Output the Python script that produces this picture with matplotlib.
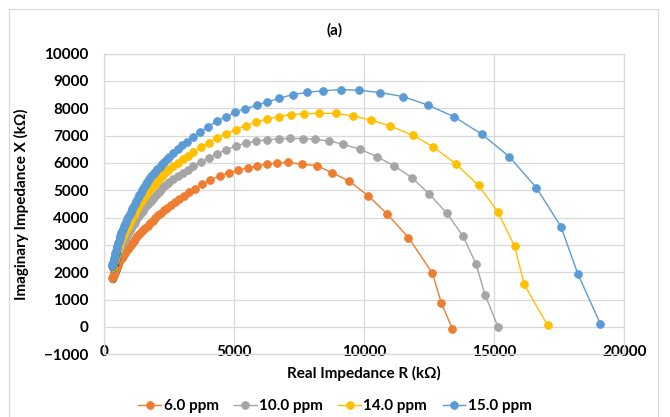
import matplotlib
matplotlib.use("Agg")
import matplotlib.pyplot as plt
import matplotlib.patheffects as pe
from matplotlib.patches import Rectangle

plt.rcParams['font.family'] = ['Lato', 'DejaVu Sans']

# ---------------- data (R in kOhm, X in kOhm) ----------------
r_6 = [308, 327, 346, 371, 396, 425, 454, 486, 519, 555, 592, 632, 673, 716, 761,
       809, 858, 910, 962, 1019, 1077, 1140, 1204, 1275, 1346, 1423, 1500, 1586,
       1673, 1768, 1865, 1970, 2077, 2192, 2308, 2432, 2558, 2720, 2890, 3070, 3270,
       3500, 3757, 4077, 4461, 4819,
       5165, 5527, 5873, 6257, 6642, 7088, 7604, 8180, 8757, 9423, 10165, 10896,
       11704, 12627, 12961, 13396]
x_6 = [1780, 1828, 1872, 1932, 1989, 2054, 2117, 2184, 2248, 2318, 2384, 2455, 2523,
       2589, 2651, 2717, 2779, 2852, 2921, 2998, 3071, 3154, 3232, 3316, 3396, 3475,
       3550, 3627, 3700, 3789, 3875, 3978, 4076, 4173, 4266, 4365, 4460, 4572, 4683,
       4790, 4917, 5057, 5210, 5375, 5528, 5638,
       5733, 5820, 5886, 5956, 6000, 6022, 5948, 5901, 5645, 5338, 4789, 4120, 3268,
       1963, 892, -84]

r_10 = [327, 346, 365, 386, 408, 431, 454, 479, 504, 531, 558, 586, 615, 648, 681,
        715, 750, 788, 827, 867, 908, 952, 996, 1044, 1092, 1142, 1192, 1248, 1304,
        1363, 1423, 1486, 1550, 1617, 1685, 1756, 1827, 1904, 1981, 2063, 2146, 2234,
        2323, 2417, 2511, 2670, 2840, 3020, 3210, 3431, 3711, 4019, 4346, 4692,
        5057, 5442, 5846, 6269, 6711, 7165, 7642, 8115, 8665, 9203,
        9846, 10488, 11165, 11834, 12511, 13180, 13796, 14296, 14653, 15142]
x_10 = [2164, 2220, 2274, 2335, 2395, 2461, 2526, 2593, 2658, 2721, 2782, 2849, 2914,
        2978, 3039, 3100, 3159, 3224, 3287, 3356, 3422, 3493, 3561, 3632, 3700, 3777,
        3850, 3940, 4025, 4100, 4172, 4254, 4333, 4413, 4490, 4572, 4651, 4737, 4819,
        4905, 4987, 5075, 5159, 5236, 5308, 5412, 5523, 5636, 5746, 5868, 6018, 6175,
        6332, 6478,
        6614, 6720, 6797, 6844, 6877, 6895, 6888, 6862,
        6800, 6680, 6497, 6230, 5886, 5462, 4852, 4157, 3327, 2311, 1159, 15]

r_14 = [327, 346, 365, 386, 408, 431, 454, 479, 504, 531, 558, 586, 615, 648, 681,
        715, 750, 788, 827, 867, 908, 952, 996, 1044, 1092, 1142, 1192, 1248, 1304,
        1363, 1423, 1486, 1550, 1617, 1685, 1756, 1827, 1904, 1981, 2063, 2146, 2234,
        2323, 2417, 2511, 2670, 2840, 3020, 3210, 3431, 3711, 4019, 4346, 4692,
        5057, 5442, 5846, 6269, 6711, 7192, 7692, 8280, 8923, 9565,
        10269, 10999, 11872, 12665, 13519, 14396, 15142, 15780, 16153, 17049]
x_14 = [2183, 2243, 2303, 2378, 2450, 2530, 2607, 2689, 2768, 2846, 2921, 3006, 3089,
        3170, 3247, 3320, 3389, 3463, 3535, 3617, 3696, 3776, 3853, 3937, 4018, 4105,
        4190, 4292, 4391, 4482, 4570, 4669, 4764, 4858, 4950, 5032, 5111, 5195, 5276,
        5361, 5444, 5531, 5616, 5697, 5776, 5888, 6010, 6135, 6260, 6398, 6566, 6738,
        6917, 7063,
        7217, 7356, 7491, 7594, 7692, 7769, 7791, 7813, 7813, 7714,
        7568, 7349, 7009, 6581, 5967, 5181, 4204, 2961, 1561, 62]

r_15 = [300, 323, 346, 369, 392, 415, 438, 463, 488, 515, 542, 571, 600, 632, 665,
        700, 735, 773, 812, 852, 892, 936, 981, 1029, 1077, 1127, 1177, 1232, 1288,
        1348, 1408, 1471, 1535, 1602, 1669, 1742, 1815, 1892, 1969, 2052, 2135, 2223,
        2311, 2405, 2500, 2660, 2830, 3010, 3200, 3423, 3704, 4011, 4338, 4684,
        5050, 5435, 5873, 6281, 6742, 7261, 7819, 8411, 9104, 9819,
        10615, 11511, 12472, 13448, 14526, 15576, 16615, 17565, 18219, 19076]
x_15 = [2237, 2293, 2354, 2437, 2523, 2613, 2702, 2794, 2885, 2973, 3060, 3152, 3243,
        3336, 3429, 3512, 3594, 3678, 3762, 3852, 3941, 4031, 4120, 4212, 4303, 4398,
        4493, 4601, 4709, 4812, 4914, 5016, 5118, 5217, 5316, 5409, 5502, 5590, 5678,
        5768, 5857, 5950, 6043, 6133, 6223, 6352, 6493, 6637, 6781, 6943, 7133, 7327,
        7528, 7689,
        7849, 7981, 8105, 8226, 8372, 8497, 8581, 8635, 8683, 8654,
        8570, 8423, 8105, 7692, 7045, 6230, 5096, 3671, 1927, 124]

series_labels = ['6.0 ppm', '10.0 ppm', '14.0 ppm', '15.0 ppm']
series_colors = ['#ED7D31', '#A5A5A5', '#FFC000', '#5B9BD5']

x_ticks = [0, 5000, 10000, 15000, 20000]
y_ticks = [-1000, 0, 1000, 2000, 3000, 4000, 5000, 6000, 7000, 8000, 9000, 10000]

# ---------------- figure ----------------
W, H = 670, 417
fig = plt.figure(figsize=(W / 100, H / 100), dpi=100)
fig.patch.set_facecolor('white')

# chart-area border
fig.add_artist(Rectangle((9.3 / W, -0.02), (657.7 - 9.3) / W, 1 - 9.3 / H + 0.02,
                         transform=fig.transFigure, fill=False,
                         edgecolor='#D9D9D9', linewidth=0.9))

ax = fig.add_axes([104 / W, 1 - 354.3 / H, (624.3 - 104) / W, (354.3 - 53.5) / H])

data = [(r_6, x_6), (r_10, x_10), (r_14, x_14), (r_15, x_15)]
shadow = [pe.SimplePatchShadow(offset=(0.8, -0.8), shadow_rgbFace='#2b1d12',
                               alpha=0.7)]
for (rr, xx), lab, col in zip(data, series_labels, series_colors):
    # dark rim at the crowded high-frequency start of each arc
    ax.plot(rr[:8], xx[:8], 'o', color=col, ms=5.6, mew=0.6, zorder=3,
            path_effects=shadow)
    ax.plot(rr, xx, '-o', color=col, lw=1.0, ms=5.6, mec=col, mfc=col,
            mew=0.6, label=lab, zorder=3)

ax.set_xlim(0, 20000)
ax.set_ylim(-1000, 10000)
ax.set_xticks(x_ticks)
ax.set_yticks(y_ticks)
ax.grid(True, color='#D9D9D9', lw=0.9, zorder=0)
ax.set_axisbelow(True)
for s in ax.spines.values():
    s.set_color('#D9D9D9')
    s.set_linewidth(0.9)
ax.tick_params(length=0, labelsize=11, colors='#000000')
ax.tick_params(axis='y', pad=11)
ax.tick_params(axis='x', pad=-6.5)
for lbl in ax.get_xticklabels() + ax.get_yticklabels():
    lbl.set_fontweight('bold')

ax.set_xlabel('Real Impedance R (kΩ)', fontsize=11, fontweight='bold',
              labelpad=5)
ax.set_ylabel('Imaginary Impedance X (kΩ)', fontsize=11, fontweight='bold',
              labelpad=11)

fig.text(335 / W, 1 - 30 / H, '(a)', ha='center', va='center', fontsize=11,
         fontweight='bold')

leg = fig.legend(loc='center', bbox_to_anchor=(335 / W, 1 - 406 / H), ncol=4,
                 frameon=False, prop={'weight': 'bold', 'size': 11},
                 handlelength=1.5, handletextpad=0.15, columnspacing=1.0)

fig.savefig('out.png', dpi=100)
